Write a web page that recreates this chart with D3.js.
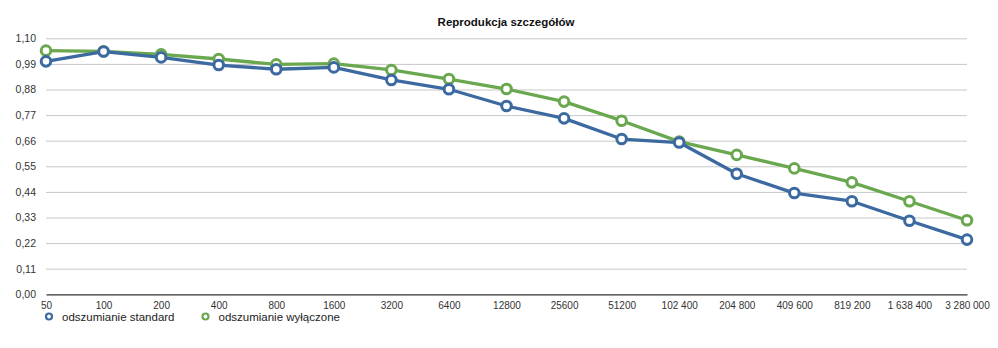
<!DOCTYPE html>
<html><head><meta charset="utf-8">
<script src="https://cdn.jsdelivr.net/npm/d3@7"></script>
<style>body{margin:0;background:#fff}svg{display:block;font-family:"Liberation Sans",Arial,sans-serif}</style>
</head><body>
<svg id="c" width="998" height="348"></svg>
<script>
const categories = ["50","100","200","400","800","1600","3200","6400","12800","25600","51200","102 400","204 800","409 600","819 200","1 638 400","3 280 000"];
const standard = [1.001,1.043,1.018,0.985,0.967,0.975,0.921,0.881,0.809,0.756,0.667,0.652,0.518,0.435,0.400,0.316,0.235];
const off = [1.047,1.044,1.031,1.011,0.988,0.991,0.964,0.925,0.882,0.828,0.746,0.656,0.599,0.541,0.481,0.400,0.318];
const yTicks = [0,0.11,0.22,0.33,0.44,0.55,0.66,0.77,0.88,0.99,1.10];
const seriesNames = ["odszumianie standard","odszumianie wyłączone"];
const colors = ["#3c6aa0","#6aa84f"];

const svg = d3.select("#c");
const x = d3.scalePoint().domain(categories).range([46,967]).padding(0);
const y = d3.scaleLinear().domain([0,1.10]).range([294.3,38.3]);
const fmt = v => d3.format(".2f")(v).replace(".", ",");

// gridlines
const yAxis = d3.axisLeft(y).tickValues(yTicks).tickSize(-(967-46)).tickFormat(fmt).tickPadding(11);
const gy = svg.append("g").attr("transform","translate(46,0)").call(yAxis);
gy.select(".domain").remove();
gy.selectAll(".tick line").attr("stroke","#c8c8c8").attr("stroke-width",1);
gy.selectAll(".tick text").attr("fill","#333").attr("font-size",10.5).attr("x",-10);
gy.selectAll(".tick").filter(d=>d===0).select("line").remove();

// x axis
const xAxis = d3.axisBottom(x).tickSize(0).tickPadding(8);
const gx = svg.append("g").attr("transform","translate(0,294.3)").call(xAxis);
gx.select(".domain").attr("stroke","#333").attr("stroke-width",1.3);
gx.selectAll(".tick text").attr("fill","#333").attr("font-size",10);

// title
svg.append("text").attr("x",506).attr("y",26).attr("text-anchor","middle")
  .attr("font-size",11.5).attr("font-weight","bold").attr("fill","#111").text("Reprodukcja szczegółów");

const line = d3.line().x((d,i)=>x(categories[i])).y(d=>y(d));
[standard, off].slice().reverse().forEach((s,ri)=>{
  const idx = 1-ri;
  const g = svg.append("g");
  g.append("path").datum(s).attr("d",line).attr("fill","none")
    .attr("stroke",colors[idx]).attr("stroke-width",3.3).attr("stroke-linejoin","round");
  g.selectAll("circle").data(s).join("circle")
    .attr("cx",(d,i)=>x(categories[i])).attr("cy",d=>y(d)).attr("r",4.8)
    .attr("fill","#fff").attr("stroke",colors[idx]).attr("stroke-width",3);
});

// legend
const legX = [49,205.5];
seriesNames.forEach((n,i)=>{
  svg.append("circle").attr("cx",legX[i]).attr("cy",316.5).attr("r",3)
    .attr("fill","#fff").attr("stroke",colors[i]).attr("stroke-width",2.2);
  svg.append("text").attr("x",legX[i]+13).attr("y",320.5).attr("font-size",11.5)
    .attr("fill","#222").text(n);
});
</script>
</body></html>
